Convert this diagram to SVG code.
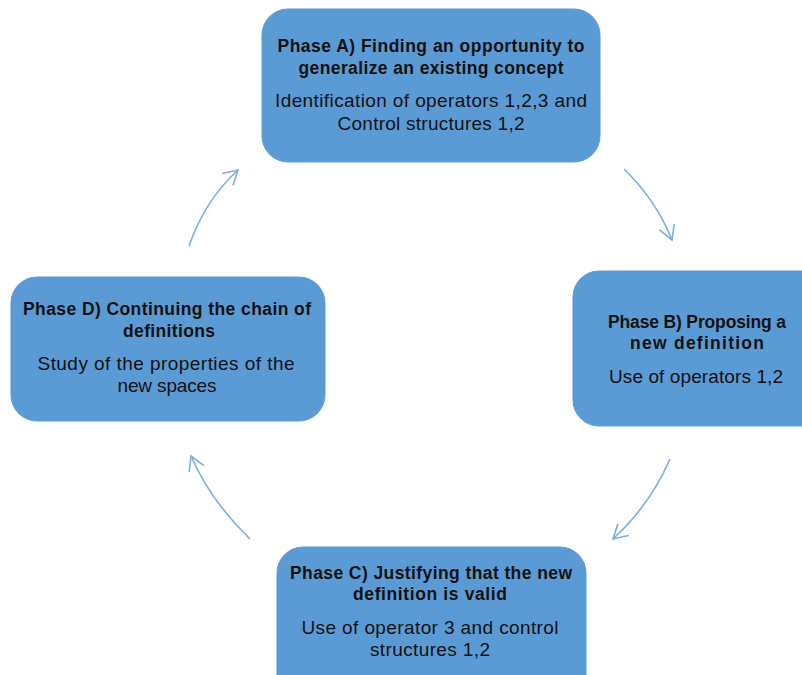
<svg xmlns="http://www.w3.org/2000/svg" width="802" height="675" viewBox="0 0 802 675">
<style>
.box{fill:#5b9bd5;stroke:#5b9bd5;stroke-width:1}
.t{font-family:"Liberation Sans",Arial,sans-serif;fill:#111;text-anchor:middle}
.b{font-weight:bold;font-size:17.5px}
.r{font-size:19px}
.c{fill:none;stroke:#7aafe0;stroke-width:1.6}
</style>
<defs>
<marker id="ah" viewBox="0 0 20 20" refX="16" refY="10" markerWidth="20" markerHeight="20" markerUnits="userSpaceOnUse" orient="auto">
<path d="M2,2 L16,10 L2,18" fill="none" stroke="#7aafe0" stroke-width="1.6"/>
</marker>
</defs>
<rect width="802" height="675" fill="#fff"/>
<g id="connectors">
<path class="c" d="M189,246 Q205,200 238,170" marker-end="url(#ah)"/>
<path class="c" d="M624,169 Q656,200 672,240" marker-end="url(#ah)"/>
<path class="c" d="M670,459 Q650,505 613,539" marker-end="url(#ah)"/>
<path class="c" d="M250,539 Q210,500 191,456" marker-end="url(#ah)"/>
</g>
<g id="phaseA">
<rect class="box" x="262" y="9" width="338" height="153" rx="26"/>
<text class="t b" x="431" y="52" textLength="307">Phase A) Finding an opportunity to</text>
<text class="t b" x="431" y="74" textLength="265">generalize an existing concept</text>
<text class="t r" x="431" y="107" textLength="312">Identification of operators 1,2,3 and</text>
<text class="t r" x="431" y="130" textLength="187">Control structures 1,2</text>
</g>
<g id="phaseB">
<rect class="box" x="573" y="271" width="260" height="155" rx="26"/>
<text class="t b" x="697" y="328" textLength="178">Phase B) Proposing a</text>
<text class="t b" x="697" y="349" textLength="134">new definition</text>
<text class="t r" x="696" y="383" textLength="174">Use of operators 1,2</text>
</g>
<g id="phaseC">
<rect class="box" x="277" y="547" width="309" height="160" rx="26"/>
<text class="t b" x="431" y="579" textLength="282">Phase C) Justifying that the new</text>
<text class="t b" x="430" y="600" textLength="154">definition is valid</text>
<text class="t r" x="430" y="634" textLength="257">Use of operator 3 and control</text>
<text class="t r" x="430" y="656" textLength="120">structures 1,2</text>
</g>
<g id="phaseD">
<rect class="box" x="11" y="277" width="314" height="144" rx="26"/>
<text class="t b" x="167" y="315" textLength="288">Phase D) Continuing the chain of</text>
<text class="t b" x="169" y="337" textLength="92">definitions</text>
<text class="t r" x="166" y="370" textLength="257">Study of the properties of the</text>
<text class="t r" x="167" y="392" textLength="99">new spaces</text>
</g>
</svg>
